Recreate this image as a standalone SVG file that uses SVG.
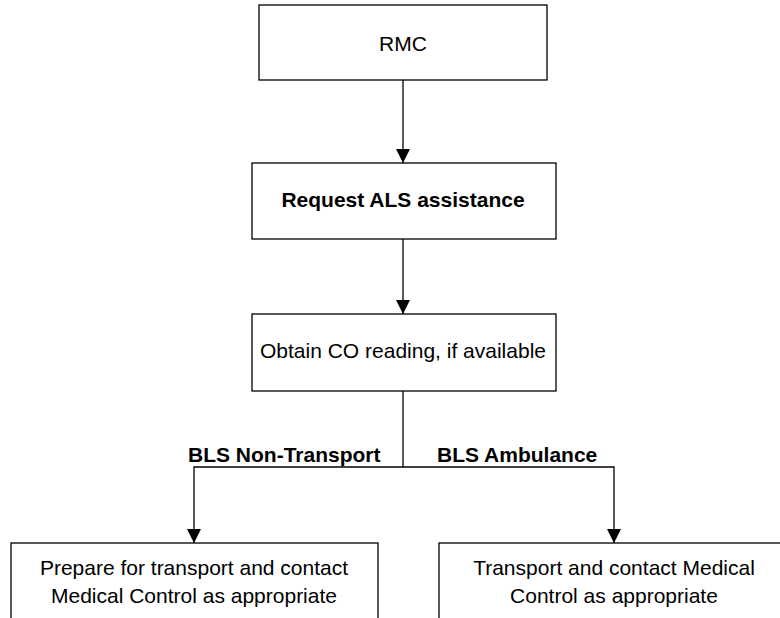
<svg xmlns="http://www.w3.org/2000/svg" width="780" height="618" viewBox="0 0 780 618">
  <style>
    .box { fill: #ffffff; stroke: #000000; stroke-width: 1.3; }
    .txt { font-family: "Liberation Sans", Arial, sans-serif; font-size: 21px; fill: #000000; text-anchor: middle; }
    .bold { font-weight: bold; }
    .lbl { font-family: "Liberation Sans", Arial, sans-serif; font-size: 21px; font-weight: bold; fill: #000000; }
    .wire { fill: none; stroke: #000000; stroke-width: 1.3; }
  </style>
  <defs>
    <marker id="arrow" viewBox="0 0 14 14" refX="14" refY="7" markerWidth="14" markerHeight="14" markerUnits="userSpaceOnUse" orient="auto">
      <path d="M0,0 L14,7 L0,14 Z" fill="#000000"/>
    </marker>
  </defs>
  <rect x="0" y="0" width="780" height="618" fill="#ffffff"/>

  <g id="connectors">
    <line class="wire" x1="403" y1="80" x2="403" y2="163" marker-end="url(#arrow)"/>
    <line class="wire" x1="403" y1="239" x2="403" y2="314" marker-end="url(#arrow)"/>
    <line class="wire" x1="403" y1="391" x2="403" y2="467"/>
    <polyline class="wire" points="403,467 194,467 194,543" marker-end="url(#arrow)"/>
    <polyline class="wire" points="403,467 614,467 614,543" marker-end="url(#arrow)"/>
    <text class="lbl" x="188" y="462">BLS Non-Transport</text>
    <text class="lbl" x="437" y="462">BLS Ambulance</text>
  </g>

  <g id="rmc">
    <rect class="box" x="259" y="5" width="288" height="75"/>
    <text class="txt" x="403" y="51">RMC</text>
  </g>

  <g id="request-als">
    <rect class="box" x="252" y="163" width="304" height="76"/>
    <text class="txt bold" x="403" y="207">Request ALS assistance</text>
  </g>

  <g id="obtain-co">
    <rect class="box" x="252" y="314" width="304" height="77"/>
    <text class="txt" x="403" y="358">Obtain CO reading, if available</text>
  </g>

  <g id="prepare-transport">
    <rect class="box" x="11" y="543" width="367" height="90"/>
    <text class="txt" x="194" y="575">Prepare for transport and contact</text>
    <text class="txt" x="194" y="603">Medical Control as appropriate</text>
  </g>

  <g id="transport">
    <rect class="box" x="439" y="543" width="360" height="90"/>
    <text class="txt" x="614" y="575">Transport and contact Medical</text>
    <text class="txt" x="614" y="603">Control as appropriate</text>
  </g>
</svg>
